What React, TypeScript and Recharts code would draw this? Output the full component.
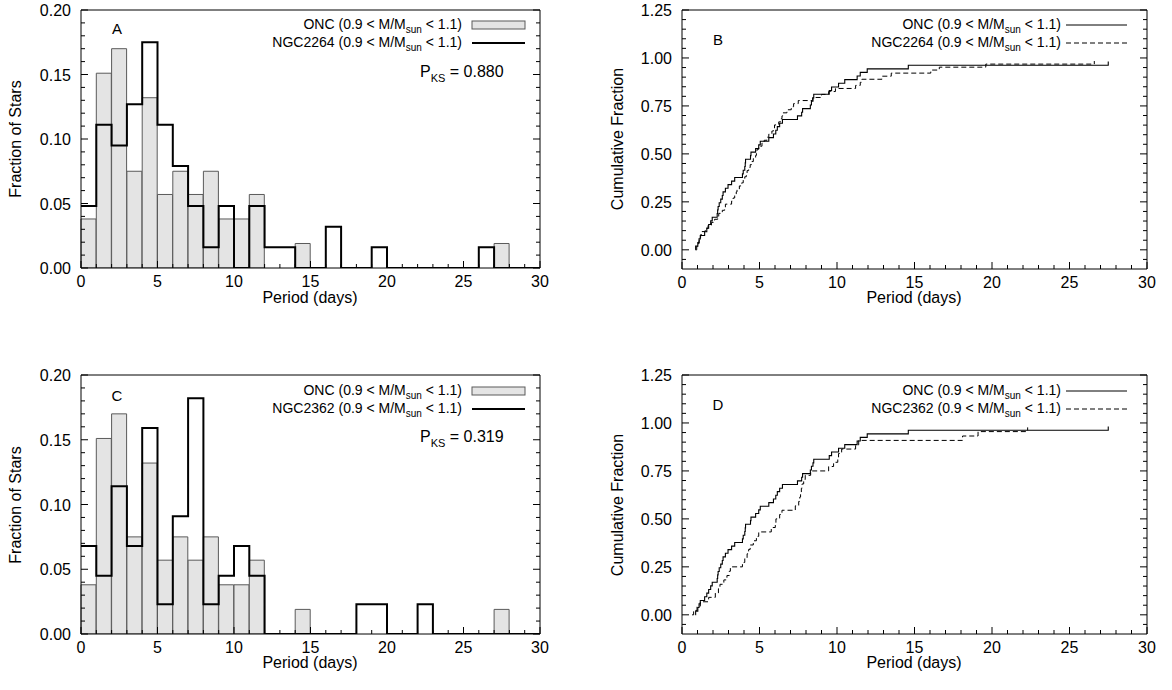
import React from 'react';
import { ComposedChart, LineChart, Bar, Line, XAxis, YAxis } from 'recharts';

const FONT = '"Liberation Sans", Arial, Helvetica, sans-serif';
const FS = 14; // legend text
const TFS = 16; // tick labels & axis titles
const W = 1172;
const H = 690;
const PW = 586;
const PH = 345;
const AX = 5; // size of each visible axis box

// ---------- histogram data (1-day bins) ----------
const BIN_STARTS = [0, 1, 2, 3, 4, 5, 6, 7, 8, 9, 10, 11, 12, 13, 14, 15, 16, 17, 18, 19, 20, 21, 22, 23, 24, 25, 26, 27, 28, 29];
const BIN_END = 30;

const ONC_HIST = [0.038, 0.151, 0.170, 0.075, 0.132, 0.057, 0.075, 0.057, 0.075, 0.038, 0.038, 0.057, 0, 0, 0.019, 0, 0, 0, 0, 0, 0, 0, 0, 0, 0, 0, 0, 0.019, 0, 0];
const NGC2264_HIST = [0.048, 0.111, 0.095, 0.127, 0.175, 0.111, 0.079, 0.048, 0.016, 0.048, 0, 0.048, 0.016, 0.016, 0, 0, 0.032, 0, 0, 0.016, 0, 0, 0, 0, 0, 0, 0.016, 0, 0, 0];
const NGC2362_HIST = [0.068, 0.045, 0.114, 0.068, 0.159, 0.023, 0.091, 0.182, 0.023, 0.045, 0.068, 0.045, 0, 0, 0, 0, 0, 0, 0.023, 0.023, 0, 0, 0.023, 0, 0, 0, 0, 0, 0, 0];

// ---------- cumulative distributions (period, cumulative fraction) ----------
const ONC_PERIODS = [0.86, 0.88, 1.02, 1.1, 1.18, 1.46, 1.6, 1.72, 1.85, 1.95, 2.27, 2.3, 2.33, 2.4, 2.5, 2.6, 2.65, 2.8, 2.97, 3.2, 3.4, 3.9, 3.95, 4.05, 4.08, 4.1, 4.42, 4.45, 4.75, 4.95, 5.05, 5.6, 5.9, 6.05, 6.15, 6.3, 6.48, 7.45, 7.72, 7.78, 8.28, 8.35, 8.45, 8.5, 9.5, 9.65, 10.1, 10.5, 11.3, 11.5, 11.95, 14.6, 27.5];
const ONC_CUM = [0, 0.019, 0.038, 0.057, 0.075, 0.094, 0.113, 0.132, 0.151, 0.170, 0.189, 0.208, 0.226, 0.245, 0.264, 0.283, 0.302, 0.321, 0.340, 0.358, 0.377, 0.396, 0.415, 0.434, 0.453, 0.472, 0.491, 0.509, 0.528, 0.547, 0.566, 0.585, 0.604, 0.623, 0.642, 0.660, 0.679, 0.698, 0.717, 0.736, 0.755, 0.774, 0.792, 0.811, 0.830, 0.849, 0.868, 0.887, 0.906, 0.925, 0.943, 0.962, 0.981];

const NGC2264_PERIODS = [0.9, 0.95, 0.98, 1.1, 1.15, 1.2, 1.29, 1.5, 1.68, 1.9, 2.1, 2.3, 2.37, 2.6, 2.75, 2.8, 3.2, 3.3, 3.4, 3.5, 3.55, 3.7, 3.85, 3.95, 4.05, 4.15, 4.2, 4.3, 4.4, 4.5, 4.6, 4.75, 4.8, 4.84, 4.95, 5.16, 5.3, 5.48, 5.6, 5.8, 5.9, 5.97, 6.24, 6.4, 6.45, 6.5, 6.77, 7.05, 7.2, 7.5, 8.43, 9.0, 9.46, 9.9, 11.2, 11.5, 11.6, 12.9, 13.5, 16.05, 16.6, 19.6, 26.6];
const NGC2264_CUM = [0, 0.016, 0.032, 0.048, 0.063, 0.079, 0.095, 0.111, 0.127, 0.143, 0.159, 0.175, 0.190, 0.206, 0.222, 0.238, 0.254, 0.270, 0.286, 0.302, 0.317, 0.333, 0.349, 0.365, 0.381, 0.397, 0.413, 0.429, 0.444, 0.460, 0.476, 0.492, 0.508, 0.524, 0.540, 0.556, 0.571, 0.587, 0.603, 0.619, 0.635, 0.651, 0.667, 0.683, 0.698, 0.714, 0.730, 0.746, 0.762, 0.778, 0.794, 0.810, 0.825, 0.841, 0.857, 0.873, 0.889, 0.905, 0.921, 0.937, 0.952, 0.968, 0.984];

const NGC2362_PERIODS = [0.65, 0.75, 0.97, 1.18, 1.72, 2.15, 2.35, 2.45, 2.7, 2.9, 3.05, 3.12, 3.9, 4.05, 4.2, 4.3, 4.4, 4.6, 4.8, 4.95, 5.76, 6.02, 6.06, 6.3, 6.45, 7.31, 7.53, 7.6, 7.65, 7.7, 7.74, 7.85, 7.95, 8.3, 9.46, 9.78, 10.05, 10.1, 10.3, 11.2, 11.4, 18.1, 19.1, 22.3];
const NGC2362_CUM = [0, 0.023, 0.045, 0.068, 0.091, 0.114, 0.136, 0.159, 0.182, 0.205, 0.227, 0.250, 0.273, 0.295, 0.318, 0.341, 0.364, 0.386, 0.409, 0.432, 0.455, 0.477, 0.500, 0.523, 0.545, 0.568, 0.591, 0.614, 0.636, 0.659, 0.682, 0.705, 0.727, 0.750, 0.773, 0.795, 0.818, 0.841, 0.864, 0.886, 0.909, 0.932, 0.955, 0.977];

// ---------- ticks ----------
const X_TICKS = [0, 1, 2, 3, 4, 5, 6, 7, 8, 9, 10, 11, 12, 13, 14, 15, 16, 17, 18, 19, 20, 21, 22, 23, 24, 25, 26, 27, 28, 29, 30];
const X_MAJOR = [0, 5, 10, 15, 20, 25, 30];
const X_LABELS = ['0', '5', '10', '15', '20', '25', '30'];

const HIST_Y_TICKS = [0, 0.01, 0.02, 0.03, 0.04, 0.05, 0.06, 0.07, 0.08, 0.09, 0.1, 0.11, 0.12, 0.13, 0.14, 0.15, 0.16, 0.17, 0.18, 0.19, 0.2];
const HIST_Y_MAJOR = [0, 0.05, 0.1, 0.15, 0.2];
const HIST_Y_LABELS = ['0.00', '0.05', '0.10', '0.15', '0.20'];

const CUM_Y_TICKS = [-0.05, 0, 0.05, 0.1, 0.15, 0.2, 0.25, 0.3, 0.35, 0.4, 0.45, 0.5, 0.55, 0.6, 0.65, 0.7, 0.75, 0.8, 0.85, 0.9, 0.95, 1, 1.05, 1.1, 1.15, 1.2, 1.25];
const CUM_Y_MAJOR = [0, 0.25, 0.5, 0.75, 1, 1.25];
const CUM_Y_LABELS = ['0.00', '0.25', '0.50', '0.75', '1.00', '1.25'];

const MAJOR_LEN = 7;
const MINOR_LEN = 4;

function makeXTick(side: 'bottom' | 'top', majors: number[], labels: string[] | null) {
  return (props: any) => {
    const { x, y, payload } = props;
    const v = payload.value;
    const idx = majors.indexOf(v);
    const len = idx >= 0 ? MAJOR_LEN : MINOR_LEN;
    const dir = side === 'bottom' ? -1 : 1;
    return (
      <g>
        <line x1={x} y1={y} x2={x} y2={y + dir * len} stroke="#000" strokeWidth={1} />
        {labels && idx >= 0 ? (
          <text x={x} y={y + 19} textAnchor="middle" fontSize={TFS} fontFamily={FONT} fill="#000">
            {labels[idx]}
          </text>
        ) : null}
      </g>
    );
  };
}

function makeYTick(side: 'left' | 'right', majors: number[], labels: string[] | null) {
  return (props: any) => {
    const { x, y, payload } = props;
    const v = payload.value;
    const idx = majors.indexOf(v);
    const len = idx >= 0 ? MAJOR_LEN : MINOR_LEN;
    const dir = side === 'left' ? 1 : -1;
    return (
      <g>
        <line x1={x} y1={y} x2={x + dir * len} y2={y} stroke="#000" strokeWidth={1} />
        {labels && idx >= 0 ? (
          <text x={x - 10} y={y + 6} textAnchor="end" fontSize={TFS} fontFamily={FONT} fill="#000">
            {labels[idx]}
          </text>
        ) : null}
      </g>
    );
  };
}

type Margin = { top: number; right: number; bottom: number; left: number };

const axisCommon = {
  interval: 0 as const,
  tickSize: 0,
  tickMargin: 0,
  tickLine: false,
  axisLine: { stroke: '#000', strokeWidth: 1 },
  allowDataOverflow: true,
};

const inset = (m: Margin): Margin => ({ top: m.top - AX, right: m.right - AX, bottom: m.bottom - AX, left: m.left - AX });

// mirrored top/right frame with inward ticks
function TopRightFrame({ margin, yDomain, yTicks, yMajor }: { margin: Margin; yDomain: number[]; yTicks: number[]; yMajor: number[] }) {
  return (
    <LineChart width={PW} height={PH} margin={{ top: margin.top - AX, right: margin.right - AX, bottom: margin.bottom, left: margin.left }}>
      <XAxis xAxisId="t" orientation="top" type="number" domain={[0, 30]} ticks={X_TICKS} height={AX} {...axisCommon} tick={makeXTick('top', X_MAJOR, null)} />
      <YAxis yAxisId="r" orientation="right" type="number" domain={yDomain} ticks={yTicks} width={AX} {...axisCommon} tick={makeYTick('right', yMajor, null)} />
    </LineChart>
  );
}

function HistChart({ margin, other }: { margin: Margin; other: number[] }) {
  const barData = BIN_STARTS.map((b, i) => ({ bin: b, onc: ONC_HIST[i] }));
  const stepData = [...BIN_STARTS.map((b, i) => ({ x: b, y: other[i] })), { x: BIN_END, y: 0 }];
  return (
    <div style={{ position: 'relative', width: PW, height: PH }}>
      <div style={{ position: 'absolute', left: 0, top: 0 }}>
        <ComposedChart
          width={PW}
          height={PH}
          data={barData}
          margin={{ top: margin.top, right: margin.right, bottom: margin.bottom - AX, left: margin.left - AX }}
          barCategoryGap={0}
          barGap={0}
        >
          <XAxis xAxisId="bins" dataKey="bin" type="category" hide height={0} />
          <XAxis xAxisId="num" dataKey="x" type="number" domain={[0, 30]} ticks={X_TICKS} height={AX} {...axisCommon} tick={makeXTick('bottom', X_MAJOR, X_LABELS)} />
          <YAxis yAxisId="l" type="number" domain={[0, 0.2]} ticks={HIST_Y_TICKS} width={AX} {...axisCommon} tick={makeYTick('left', HIST_Y_MAJOR, HIST_Y_LABELS)} />
          <Bar xAxisId="bins" yAxisId="l" dataKey="onc" fill="#e4e4e4" stroke="#5a5a5a" strokeWidth={1} isAnimationActive={false} />
          <Line xAxisId="num" yAxisId="l" data={stepData} dataKey="y" type="stepAfter" stroke="#000" strokeWidth={2} dot={false} isAnimationActive={false} />
        </ComposedChart>
      </div>
      <div style={{ position: 'absolute', left: 0, top: 0 }}>
        <TopRightFrame margin={margin} yDomain={[0, 0.2]} yTicks={HIST_Y_TICKS} yMajor={HIST_Y_MAJOR} />
      </div>
    </div>
  );
}

function CumChart({ margin, periods, cum }: { margin: Margin; periods: number[]; cum: number[] }) {
  const oncData = ONC_PERIODS.map((p, i) => ({ x: p, y: ONC_CUM[i] }));
  const otherData = periods.map((p, i) => ({ x: p, y: cum[i] }));
  return (
    <LineChart width={PW} height={PH} margin={inset(margin)}>
      <XAxis xAxisId="num" dataKey="x" type="number" domain={[0, 30]} ticks={X_TICKS} height={AX} {...axisCommon} tick={makeXTick('bottom', X_MAJOR, X_LABELS)} />
      <XAxis xAxisId="top" orientation="top" type="number" domain={[0, 30]} ticks={X_TICKS} height={AX} {...axisCommon} tick={makeXTick('top', X_MAJOR, null)} />
      <YAxis yAxisId="l" type="number" domain={[-0.1, 1.25]} ticks={CUM_Y_TICKS} width={AX} {...axisCommon} tick={makeYTick('left', CUM_Y_MAJOR, CUM_Y_LABELS)} />
      <YAxis yAxisId="r" orientation="right" type="number" domain={[-0.1, 1.25]} ticks={CUM_Y_TICKS} width={AX} {...axisCommon} tick={makeYTick('right', CUM_Y_MAJOR, null)} />
      <Line xAxisId="num" yAxisId="l" data={otherData} dataKey="y" type="stepAfter" stroke="#000" strokeWidth={1} strokeDasharray="5 3" dot={false} isAnimationActive={false} />
      <Line xAxisId="num" yAxisId="l" data={oncData} dataKey="y" type="stepAfter" stroke="#000" strokeWidth={1.1} dot={false} isAnimationActive={false} />
    </LineChart>
  );
}

function Txt({ x, y, anchor = 'start', size = FS, children }: { x: number; y: number; anchor?: 'start' | 'middle' | 'end'; size?: number; children: React.ReactNode }) {
  const style: React.CSSProperties = {
    position: 'absolute',
    top: y - size * 0.49,
    whiteSpace: 'nowrap',
    fontSize: size,
    lineHeight: `${size}px`,
    fontFamily: FONT,
    color: '#000',
  };
  if (anchor === 'end') style.right = W - x;
  else if (anchor === 'middle') {
    style.left = x;
    style.transform = 'translateX(-50%)';
  } else style.left = x;
  return <div style={style}>{children}</div>;
}

function VTxt({ x, y, size = TFS, children }: { x: number; y: number; size?: number; children: React.ReactNode }) {
  return (
    <div
      style={{
        position: 'absolute',
        left: x,
        top: y,
        transform: 'translate(-50%, -50%) rotate(-90deg)',
        whiteSpace: 'nowrap',
        fontSize: size,
        lineHeight: `${size}px`,
        fontFamily: FONT,
        color: '#000',
      }}
    >
      {children}
    </div>
  );
}

const Sub = ({ children, size = 10 }: { children: React.ReactNode; size?: number }) => (
  <span style={{ fontSize: size, position: 'relative', top: size * 0.4 }}>{children}</span>
);

const MassRange = () => (
  <>
    (0.9 &lt; M/M<Sub>sun</Sub> &lt; 1.1)
  </>
);

export default function App() {
  const mA: Margin = { top: 10, left: 81, right: 46, bottom: 77 };
  const mB: Margin = { top: 10, left: 96, right: 25, bottom: 76 };
  const mC: Margin = { top: 30, left: 81, right: 46, bottom: 56 };
  const mD: Margin = { top: 30, left: 96, right: 25, bottom: 56 };
  return (
    <div style={{ position: 'absolute', left: 0, top: 0, width: W, height: H, background: '#fff', overflow: 'hidden', fontFamily: FONT }}>
      <div style={{ position: 'absolute', left: 0, top: 0 }}>
        <HistChart margin={mA} other={NGC2264_HIST} />
      </div>
      <div style={{ position: 'absolute', left: PW, top: 0 }}>
        <CumChart margin={mB} periods={NGC2264_PERIODS} cum={NGC2264_CUM} />
      </div>
      <div style={{ position: 'absolute', left: 0, top: PH }}>
        <HistChart margin={mC} other={NGC2362_HIST} />
      </div>
      <div style={{ position: 'absolute', left: PW, top: PH }}>
        <CumChart margin={mD} periods={NGC2362_PERIODS} cum={NGC2362_CUM} />
      </div>

      {/* legend swatches */}
      <svg style={{ position: 'absolute', left: 0, top: 0 }} width={W} height={H}>
        <rect x={472} y={21} width={53} height={8} fill="#e4e4e4" stroke="#5a5a5a" strokeWidth={1} />
        <line x1={472} y1={43} x2={525} y2={43} stroke="#000" strokeWidth={2} />
        <rect x={472} y={387} width={53} height={8} fill="#e4e4e4" stroke="#5a5a5a" strokeWidth={1} />
        <line x1={472} y1={409} x2={525} y2={409} stroke="#000" strokeWidth={2} />
        <line x1={1066} y1={25} x2={1127} y2={25} stroke="#000" strokeWidth={1} />
        <line x1={1066} y1={43} x2={1127} y2={43} stroke="#000" strokeWidth={1} strokeDasharray="5 3" />
        <line x1={1066} y1={391} x2={1127} y2={391} stroke="#000" strokeWidth={1} />
        <line x1={1066} y1={409} x2={1127} y2={409} stroke="#000" strokeWidth={1} strokeDasharray="5 3" />
      </svg>

      {/* legends */}
      <Txt x={462} y={24} anchor="end">ONC <MassRange /></Txt>
      <Txt x={462} y={42} anchor="end">NGC2264 <MassRange /></Txt>
      <Txt x={462} y={390} anchor="end">ONC <MassRange /></Txt>
      <Txt x={462} y={408} anchor="end">NGC2362 <MassRange /></Txt>
      <Txt x={1061} y={24} anchor="end">ONC <MassRange /></Txt>
      <Txt x={1061} y={42} anchor="end">NGC2264 <MassRange /></Txt>
      <Txt x={1061} y={390} anchor="end">ONC <MassRange /></Txt>
      <Txt x={1061} y={408} anchor="end">NGC2362 <MassRange /></Txt>

      {/* KS probabilities */}
      <Txt x={420} y={72} size={16}>P<Sub size={11}>KS</Sub> = 0.880</Txt>
      <Txt x={420} y={437} size={16}>P<Sub size={11}>KS</Sub> = 0.319</Txt>

      {/* panel letters */}
      <Txt x={117} y={28} anchor="middle" size={15}>A</Txt>
      <Txt x={718} y={39} anchor="middle" size={15}>B</Txt>
      <Txt x={117} y={395} anchor="middle" size={15}>C</Txt>
      <Txt x={718} y={404} anchor="middle" size={15}>D</Txt>

      {/* axis titles */}
      <Txt x={310} y={298} anchor="middle" size={TFS}>Period (days)</Txt>
      <Txt x={914} y={298} anchor="middle" size={TFS}>Period (days)</Txt>
      <Txt x={310} y={663} anchor="middle" size={TFS}>Period (days)</Txt>
      <Txt x={914} y={663} anchor="middle" size={TFS}>Period (days)</Txt>
      <VTxt x={16} y={139}>Fraction of Stars</VTxt>
      <VTxt x={16} y={505}>Fraction of Stars</VTxt>
      <VTxt x={618} y={139}>Cumulative Fraction</VTxt>
      <VTxt x={618} y={505}>Cumulative Fraction</VTxt>
    </div>
  );
}
